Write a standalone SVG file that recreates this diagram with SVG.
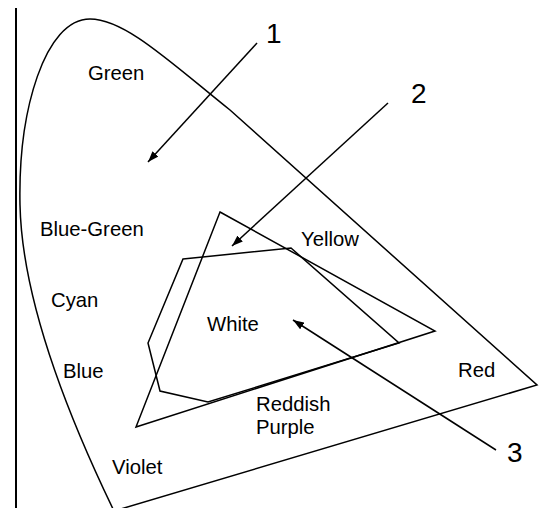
<svg xmlns="http://www.w3.org/2000/svg" width="539" height="508" viewBox="0 0 539 508">
  <style>
    .ln { fill: none; stroke: #000; stroke-width: 1.5; stroke-linejoin: miter; }
    .lbl { font-family: "Liberation Sans", Arial, sans-serif; font-size: 20.3px; fill: #000; }
    .num { font-family: "Liberation Sans", Arial, sans-serif; font-size: 28px; fill: #000; }
  </style>
  <defs>
    <marker id="head" viewBox="0 0 11 8" refX="11" refY="4" markerWidth="11" markerHeight="8" markerUnits="userSpaceOnUse" orient="auto">
      <path d="M0,0 L11,4 L0,8 Z" fill="#000"/>
    </marker>
  </defs>
  <rect width="539" height="508" fill="#fff"/>

  <!-- axis -->
  <g id="axis">
    <line x1="16" y1="8" x2="16" y2="508" stroke="#000" stroke-width="2"/>
  </g>

  <!-- spectral locus with purple line (closes just below the lower edge) -->
  <g id="locus">
    <path class="ln" d="M114,511 C70,420 22,300 20,205 C18,110 45,19 90,19 C125,19 170,62 230,110 L537,385 Z"/>
  </g>

  <!-- gamut triangle -->
  <g id="triangle">
    <path class="ln" d="M220,212 L435,331 L136,427 Z"/>
  </g>

  <!-- gamut polygon -->
  <g id="polygon">
    <path class="ln" d="M183,259 L291,248 L399,343 L208,402 L160,391 L148,343 Z"/>
  </g>

  <!-- colour region labels -->
  <g id="labels">
    <text class="lbl" x="88" y="80">Green</text>
    <text class="lbl" x="40" y="236">Blue-Green</text>
    <text class="lbl" x="51" y="307">Cyan</text>
    <text class="lbl" x="63" y="378">Blue</text>
    <text class="lbl" x="112" y="474">Violet</text>
    <text class="lbl" x="207" y="331">White</text>
    <text class="lbl" x="301" y="246">Yellow</text>
    <text class="lbl" x="458" y="377">Red</text>
    <text class="lbl" x="256" y="411">Reddish</text>
    <text class="lbl" x="256" y="434">Purple</text>
  </g>

  <!-- callout arrows -->
  <g id="connectors">
    <line class="ln" x1="257" y1="43" x2="148" y2="162" marker-end="url(#head)"/>
    <line class="ln" x1="388" y1="103" x2="232" y2="246" marker-end="url(#head)"/>
    <line class="ln" x1="496" y1="450" x2="293" y2="320" marker-end="url(#head)"/>
  </g>

  <!-- callout numbers -->
  <g id="callouts">
    <text class="num" x="266" y="43">1</text>
    <text class="num" x="411" y="103">2</text>
    <text class="num" x="507" y="462">3</text>
  </g>
</svg>
